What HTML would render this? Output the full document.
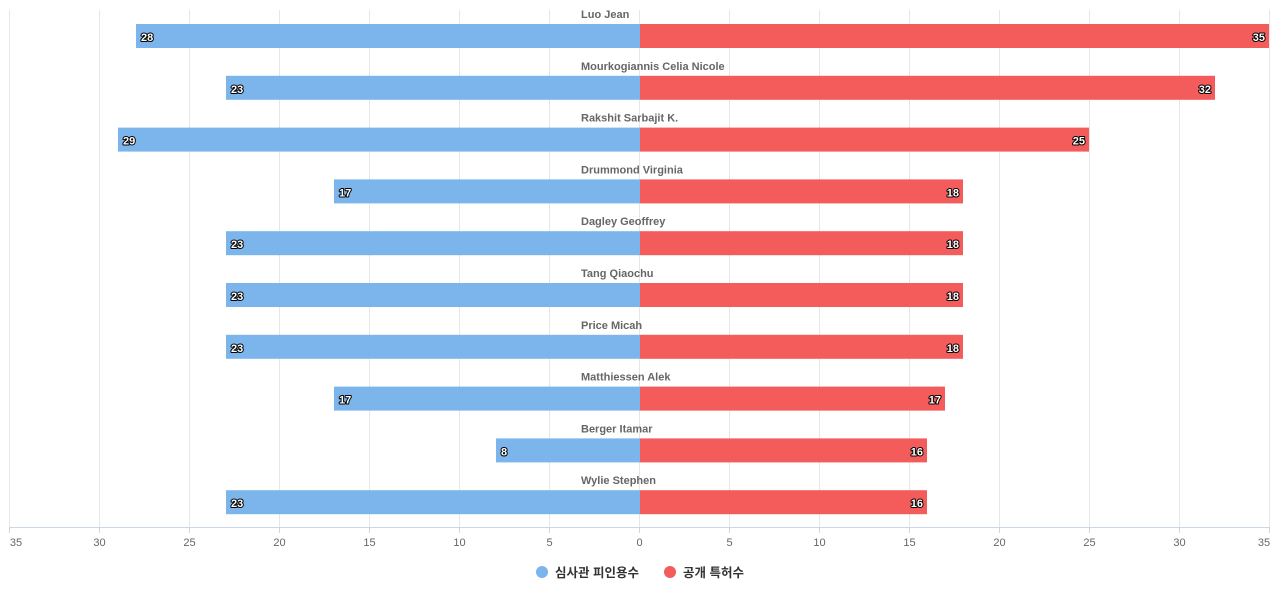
<!DOCTYPE html>
<html><head><meta charset="utf-8"><style>
body{margin:0;background:#fff;}
svg text{font-family:"Liberation Sans","Noto Sans CJK KR",sans-serif;}
.v{font-size:11px;font-weight:bold;fill:#fff;stroke:#000;stroke-width:2px;paint-order:stroke;stroke-linejoin:round;}
.n{font-size:11px;font-weight:bold;fill:#666;}
.t{font-size:11px;fill:#666;}
</style></head><body>
<svg width="1280" height="600" xmlns="http://www.w3.org/2000/svg">
<g id="grid" stroke="#e6e6e6" stroke-width="1"></g>
<g id="bars"></g>
<line x1="10" y1="527.5" x2="1270" y2="527.5" stroke="#ccd6eb"/>
<g id="ticks"></g>
<circle cx="542" cy="572" r="6" fill="#7cb5ec"/>
<text x="555" y="577" style="font-size:12.5px;font-weight:bold;fill:#333">심사관 피인용수</text>
<circle cx="670" cy="572" r="6" fill="#f45b5b"/>
<text x="683" y="577" style="font-size:12.5px;font-weight:bold;fill:#333">공개 특허수</text>
</svg>
<script>
const ns="http://www.w3.org/2000/svg";
function el(p,t,a,txt){const e=document.createElementNS(ns,t);for(const k in a)e.setAttribute(k,a[k]);if(txt!=null)e.textContent=txt;document.getElementById(p).appendChild(e);}
for(let i=-7;i<=7;i++){const x=640+i*90-0.5;el('grid','line',{x1:x,y1:10,x2:x,y2:527});
el('ticks','line',{x1:x,y1:527,x2:x,y2:533,stroke:'#ccd6eb'});
el('ticks','text',{x:(i==-7?16:i==7?1264:x),y:546,'text-anchor':'middle',class:'t'},String(Math.abs(i*5)));}
const d=[["Luo Jean",28,35],["Mourkogiannis Celia Nicole",23,32],["Rakshit Sarbajit K.",29,25],["Drummond Virginia",17,18],["Dagley Geoffrey",23,18],["Tang Qiaochu",23,18],["Price Micah",23,18],["Matthiessen Alek",17,17],["Berger Itamar",8,16],["Wylie Stephen",23,16]];
d.forEach((r,i)=>{const y=24+i*51.8;
el('bars','rect',{x:640-r[1]*18,y:y,width:r[1]*18,height:24,fill:'#7cb5ec'});
el('bars','rect',{x:640,y:y,width:r[2]*18-1,height:24,fill:'#f45b5b'});
el('bars','text',{x:640-r[1]*18+5,y:y-6,class:'n',x:581},r[0]);
el('bars','text',{x:640-r[1]*18+5,y:y+17,class:'v'},r[1]);
el('bars','text',{x:640+r[2]*18-5,y:y+17,class:'v','text-anchor':'end'},r[2]);});
</script>
</body></html>
